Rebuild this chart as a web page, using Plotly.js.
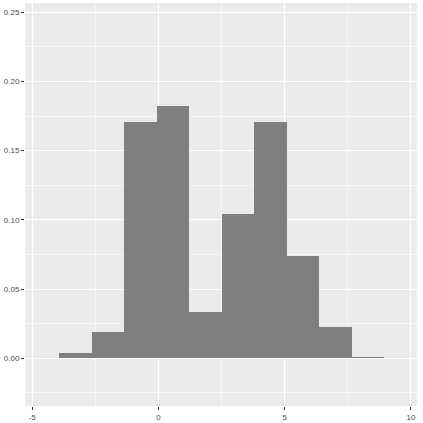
<!DOCTYPE html>
<html>
<head>
<meta charset="utf-8">
<script src="https://cdn.plot.ly/plotly-3.0.1.min.js"></script>
<style>
html,body{margin:0;padding:0;background:#fff;}
#chart{width:423px;height:423px;}
</style>
</head>
<body>
<div id="chart"></div>
<script>
// Histogram bins (left edges) and density values
var binLeft = [-3.93, -2.64, -1.35, -0.07, 1.22, 2.51, 3.80, 5.08, 6.37, 7.66];
var binWidth = 1.287;
var density = [0.0040, 0.0188, 0.1705, 0.1821, 0.0337, 0.1043, 0.1705, 0.0741, 0.0226, 0.0008];

var xTicks = [-5, 0, 5, 10];
var xTickText = ["-5", "0", "5", "10"];
var yTicks = [0, 0.05, 0.10, 0.15, 0.20, 0.25];
var yTickText = ["0.00", "0.05", "0.10", "0.15", "0.20", "0.25"];

var centers = binLeft.map(function (b) { return b + binWidth / 2; });

var trace = {
  type: 'bar',
  x: centers,
  y: density,
  width: binWidth,
  marker: { color: '#7f7f7f', line: { width: 0 } },
  hoverinfo: 'x+y'
};

var axisCommon = {
  showline: false,
  zeroline: false,
  ticks: 'outside',
  ticklen: 3,
  tickwidth: 1,
  tickcolor: '#333333',
  showgrid: true,
  gridcolor: '#ffffff',
  gridwidth: 1.1,
  tickfont: { family: 'Liberation Sans, Arial, sans-serif', size: 8, color: '#4d4d4d' }
};

var layout = {
  width: 423,
  height: 423,
  margin: { l: 25, r: 6, t: 3, b: 17 },
  paper_bgcolor: '#ffffff',
  plot_bgcolor: '#ebebeb',
  showlegend: false,
  bargap: 0,
  xaxis: Object.assign({}, axisCommon, {
    range: [-5.28, 10.24],
    tickmode: 'array',
    tickvals: xTicks,
    ticktext: xTickText,
    minor: { dtick: 2.5, tick0: 0, showgrid: true, gridcolor: '#ffffff', gridwidth: 0.55, ticks: '' }
  }),
  yaxis: Object.assign({}, axisCommon, {
    range: [-0.0345, 0.2567],
    tickmode: 'array',
    tickvals: yTicks,
    ticktext: yTickText,
    minor: { dtick: 0.025, tick0: 0.025, showgrid: true, gridcolor: '#ffffff', gridwidth: 0.55, ticks: '' }
  })
};

Plotly.newPlot('chart', [trace], layout, { displayModeBar: false, staticPlot: true });
</script>
</body>
</html>
